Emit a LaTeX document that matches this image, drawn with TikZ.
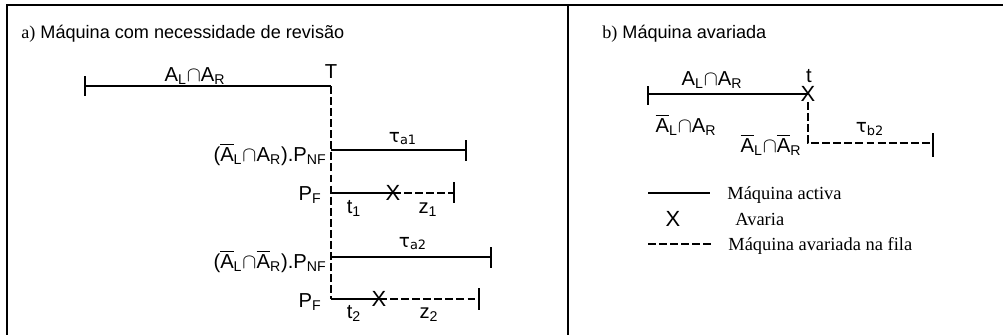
\documentclass[tikz,border=0pt]{standalone}
\usepackage{fontspec}
\setmainfont{Liberation Sans}
\newfontfamily\serif{Liberation Serif}
\newfontfamily\dejavu{DejaVu Sans}
\usetikzlibrary{positioning}

\newcommand{\AL}{A\textsubscript{L}}
\newcommand{\AR}{A\textsubscript{R}}
\newcommand{\bAL}{$\overline{\mbox{A}}$\textsubscript{L}}
\newcommand{\bAR}{$\overline{\mbox{A}}$\textsubscript{R}}
\newcommand{\capsym}{$\cap$}

\begin{document}
\begin{tikzpicture}[
    x=0.02cm, y=-0.02cm,
    lbl/.style={font=\fontsize{11.5}{13}\selectfont, inner sep=0pt},
    ttl/.style={font=\fontsize{10.3}{12}\selectfont, inner sep=0pt,
                anchor=base west},
    tau/.style={font=\dejavu\fontsize{10.5}{12}\selectfont, inner sep=0pt, anchor=base},
    leg/.style={font=\serif\fontsize{10.5}{12}\selectfont, inner sep=0pt,
                anchor=base west},
    fail/.style={font=\fontsize{12.5}{14}\selectfont, inner sep=0pt},
    act/.style={line width=0.6pt},
    fila/.style={line width=0.6pt, dash pattern=on 4.5pt off 1.8pt},
    frame/.style={line width=1.3pt},
  ]
  \useasboundingbox (0,0) rectangle (1003,335);
  % frame
  \draw[frame] (6,5) -- (1003,5);
  \draw[frame] (7,5) -- (7,335);
  \draw[frame] (568,5) -- (568,335);

  % a) left side
  \node[ttl] (ta) at (21,38)
    {{\serif a)} Máquina com necessidade de revisão};
  \coordinate (a0) at (85,86);
  \coordinate (Tb) at (331,86);
  \node[lbl, anchor=base] (T) at (331,78) {T};
  \node[lbl, anchor=base] (top) at (195,81) {\AL\capsym\AR};
  \draw[act] (a0) -- (Tb);
  \draw[act] (85,76) -- (85,96);

  \coordinate (r1s) at (331,150);
  \coordinate (r1e) at (466,150);
  \coordinate (r2s) at (331,193);
  \coordinate (r2e) at (454,193);
  \coordinate (r3s) at (331,257);
  \coordinate (r3e) at (491,257);
  \coordinate (r4s) at (331,299);
  \coordinate (r4e) at (479,299);
  \draw[fila] (Tb) -- (r4s);

  \node[lbl, anchor=base east] (l1) at (327,161)
    {(\bAL\capsym\AR).P\textsubscript{NF}};
  \node[lbl, anchor=base east] (l2) at (322,200) {P\textsubscript{F}};
  \node[lbl, anchor=base east] (l3) at (327,268)
    {(\bAL\capsym\bAR).P\textsubscript{NF}};
  \node[lbl, anchor=base east] (l4) at (322,307) {P\textsubscript{F}};

  \node[tau] (ta1) at (403,142) {τ\textsubscript{a1}};
  \node[tau] (ta2) at (413,247) {τ\textsubscript{a2}};
  \node[fail] (x1) at (393,193) {X};
  \node[fail] (x2) at (379,299) {X};
  \node[lbl, anchor=base] (t1) at (354,213) {t\textsubscript{1}};
  \node[lbl, anchor=base] (z1) at (428,213) {z\textsubscript{1}};
  \node[lbl, anchor=base] (t2) at (354,318) {t\textsubscript{2}};
  \node[lbl, anchor=base] (z2) at (429,318) {z\textsubscript{2}};

  \draw[act] (r1s) -- (r1e);
  \draw[act] (466,140) -- (466,161);
  \draw[act] (r2s) -- (x1.center);
  \draw[fila] (x1.center) -- (r2e);
  \draw[act] (454,182) -- (454,203);
  \draw[act] (r3s) -- (r3e);
  \draw[act] (491,247) -- (491,268);
  \draw[act] (r4s) -- (x2.center);
  \draw[fila] (x2.center) -- (r4e);
  \draw[act] (479,288) -- (479,310);

  % b) right side
  \node[ttl] (tb) at (602,38) {{\serif b)} Máquina avariada};
  \coordinate (b0) at (648,94);
  \coordinate (be) at (933,143);
  \node[fail] (bx) at (808,94) {X};
  \node[lbl, anchor=base] (t) at (809,82) {t};
  \node[lbl, anchor=base] (btop) at (712,85) {\AL\capsym\AR};
  \node[lbl, anchor=base] (bl1) at (686,132) {\bAL\capsym\AR};
  \node[lbl, anchor=base] (bl2) at (771,152) {\bAL\capsym\bAR};
  \node[tau] (tb2) at (870,132) {τ\textsubscript{b2}};
  \draw[act] (b0) -- (bx.center);
  \draw[act] (648,86) -- (648,105);
  \draw[fila] (bx.south) |- (be);
  \draw[act] (933,133) -- (933,157);

  % legend
  \coordinate (g1a) at (648,193);
  \coordinate (g1b) at (710,193);
  \coordinate (g3a) at (648,244);
  \coordinate (g3b) at (712,244);
  \draw[act] (g1a) -- (g1b);
  \node[leg] (g1) at (727,199) {Máquina activa};
  \node[fail] (gx) at (673,219) {X};
  \node[leg] (g2) at (735,225) {Avaria};
  \draw[fila] (g3a) -- (g3b);
  \node[leg] (g3) at (728,250) {Máquina avariada na fila};
\end{tikzpicture}
\end{document}
